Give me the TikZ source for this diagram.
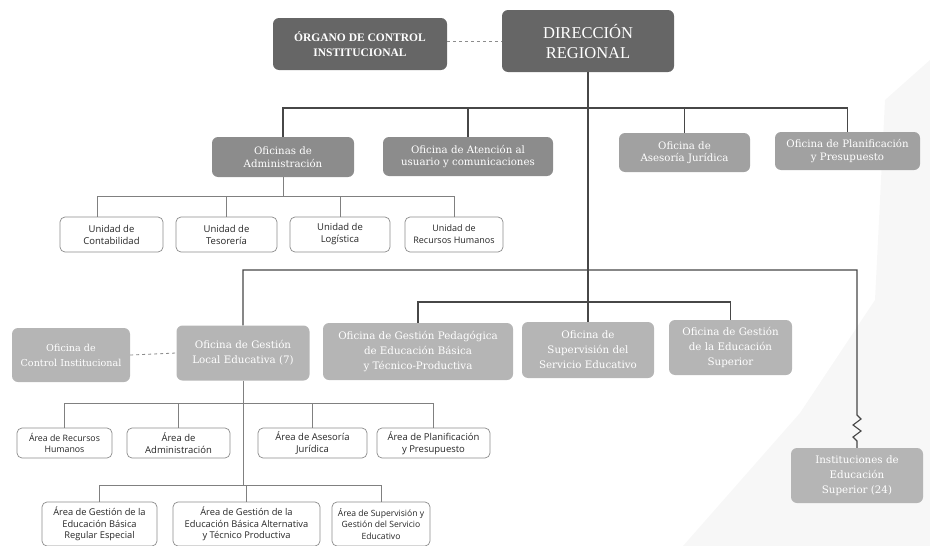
\documentclass[tikz,border=0pt]{standalone}
\usepackage{fontspec}
\setmainfont{Liberation Serif}
\newfontfamily\sansf{Open Sans}
\newfontfamily\slabf{DejaVu Serif}
\begin{document}
\begin{tikzpicture}[x=1pt,y=-1pt,
  base/.style={rounded corners=6pt, align=center, text=white, inner sep=1pt},
  darkbox/.style={base, fill=black!60},
  midbox/.style={base, fill=black!45, font=\slabf\fontsize{10.2}{12.5}\selectfont},
  lightbox/.style={base, fill=black!37, font=\slabf\fontsize{10.2}{12.5}\selectfont},
  palebox/.style={base, fill=black!29, font=\slabf\fontsize{10.3}{15}\selectfont},
  wbox/.style={rounded corners=5pt, draw=black!45, line width=0.7pt, fill=white, align=center, text=black!85, inner sep=1pt, font=\sansf\fontsize{9.5}{12}\selectfont},
  ln/.style={draw=black!72, line width=1.1pt},
  lnlight/.style={draw=black!50, line width=0.8pt},
  dashlink/.style={draw=black!45, line width=0.8pt, dashed}
]
\useasboundingbox (0,0) rectangle (930,546);
\fill[black!3] (683,546) -- (800,413) -- (875,300) -- (885,100) -- (930,60) -- (930,546) -- cycle;

% top level
\node[darkbox, minimum width=174pt, minimum height=52pt, font=\bfseries\fontsize{11.5}{15}\selectfont] (org) at (360,44) {ÓRGANO DE CONTROL\\INSTITUCIONAL};
\node[darkbox, minimum width=172pt, minimum height=62pt, font=\fontsize{16.5}{20}\selectfont] (dr) at (588,41) {DIRECCIÓN\\REGIONAL};

% second level
\node[midbox, minimum width=142pt, minimum height=40pt] (adm) at (283,157) {Oficinas de\\Administración};
\node[midbox, minimum width=170pt, minimum height=39pt] (aten) at (468,156.5) {Oficina de Atención al\\usuario y comunicaciones};
\node[lightbox, minimum width=131pt, minimum height=39pt] (ase) at (684.5,152.5) {Oficina de\\Asesoría Jurídica};
\node[lightbox, minimum width=145pt, minimum height=38pt] (pla) at (847.5,151) {Oficina de Planificación\\y Presupuesto};

% units
\node[wbox, minimum width=103pt, minimum height=35pt] (u1) at (111.5,234.5) {Unidad de\\Contabilidad};
\node[wbox, minimum width=101pt, minimum height=35pt] (u2) at (226.5,234.5) {Unidad de\\Tesorería};
\node[wbox, minimum width=100pt, minimum height=35pt] (u3) at (340,234.5) {Unidad de\\Logística};
\node[wbox, minimum width=98pt, minimum height=35pt, font=\sansf\fontsize{9}{12}\selectfont] (u4) at (454,234.5) {Unidad de\\Recursos Humanos};

% third level
\node[palebox, minimum width=118pt, minimum height=54pt, font=\slabf\fontsize{9.6}{15}\selectfont] (oci) at (71,355) {Oficina de\\Control Institucional};
\node[palebox, minimum width=133pt, minimum height=55pt] (ogle) at (243,353) {Oficina de Gestión\\Local Educativa (7)};
\node[palebox, minimum width=190pt, minimum height=57pt] (ped) at (418,351.5) {Oficina de Gestión Pedagógica\\de Educación Básica\\y Técnico-Productiva};
\node[palebox, minimum width=132pt, minimum height=56pt] (sup) at (588,350) {Oficina de\\Supervisión del\\Servicio Educativo};
\node[palebox, minimum width=123pt, minimum height=55pt] (esu) at (730.5,347.5) {Oficina de Gestión\\de la Educación\\Superior};
\node[palebox, minimum width=132pt, minimum height=55pt] (ins) at (857,475.5) {Instituciones de\\Educación\\Superior (24)};

% areas row 1
\node[wbox, minimum width=95pt, minimum height=30pt, font=\sansf\fontsize{8.8}{11.5}\selectfont] (a1) at (64.5,443) {Área de Recursos\\Humanos};
\node[wbox, minimum width=103pt, minimum height=30pt] (a2) at (178.5,443) {Área de\\Administración};
\node[wbox, minimum width=109pt, minimum height=30pt] (a3) at (312.5,443) {Área de Asesoría\\Jurídica};
\node[wbox, minimum width=113pt, minimum height=30pt] (a4) at (433.5,443) {Área de Planificación\\y Presupuesto};

% areas row 2
\node[wbox, minimum width=115pt, minimum height=44pt, font=\sansf\fontsize{9.3}{11.5}\selectfont] (b1) at (99.5,524) {Área de Gestión de la\\Educación Básica\\Regular Especial};
\node[wbox, minimum width=147pt, minimum height=44pt, font=\sansf\fontsize{9.3}{11.5}\selectfont] (b2) at (246.5,524) {Área de Gestión de la\\Educación Básica Alternativa\\y Técnico Productiva};
\node[wbox, minimum width=98pt, minimum height=44pt, font=\sansf\fontsize{8.6}{11.5}\selectfont] (b3) at (381,524) {Área de Supervisión y\\Gestión del Servicio\\Educativo};

% bus coordinates
\coordinate (busA) at (0,108);
\coordinate (busU) at (0,196);
\coordinate (busB) at (0,270);
\coordinate (busC) at (0,302);
\coordinate (busD) at (0,403);
\coordinate (busE) at (0,485);
\path (u1.north) ++(-14,0) coordinate (u1t);

% dashed links
\draw[dashlink] (org.east |- dr.west) -- (dr.west);
\draw[dashlink] (oci.east) -- (ogle.west);

% main trunk
\draw[ln] (dr.south) -- (sup.north);
\draw[ln] (adm.north) |- (pla.north |- busA) -- (pla.north);
\draw[ln] (aten.north) -- (aten.north |- busA);
\draw[ln] (ase.north) -- (ase.north |- busA);

% units
\draw[lnlight] (adm.south) -- (adm.south |- busU);
\draw[lnlight] (u1t) |- (u4.north |- busU) -- (u4.north);
\draw[lnlight] (u2.north) -- (u2.north |- busU);
\draw[lnlight] (u3.north) -- (u3.north |- busU);

% third level bus
\draw[ln] (ogle.north) |- (ins.north |- busB) -- ++(0,145) -- ++(4,4) -- ++(-8,6) -- ++(8,6) -- ++(-8,6) -- ++(4,4) -- (ins.north);
\draw[ln] (ped.north) |- (esu.north |- busC) -- (esu.north);

% areas
\draw[lnlight] (ogle.south) -- (ogle.south |- busE);
\draw[lnlight] (a1.north) |- (a4.north |- busD) -- (a4.north);
\draw[lnlight] (a2.north) -- (a2.north |- busD);
\draw[lnlight] (a3.north) -- (a3.north |- busD);
\draw[lnlight] (b1.north) |- (b3.north |- busE) -- (b3.north);
\draw[lnlight] (b2.north) -- (b2.north |- busE);
\end{tikzpicture}
\end{document}
